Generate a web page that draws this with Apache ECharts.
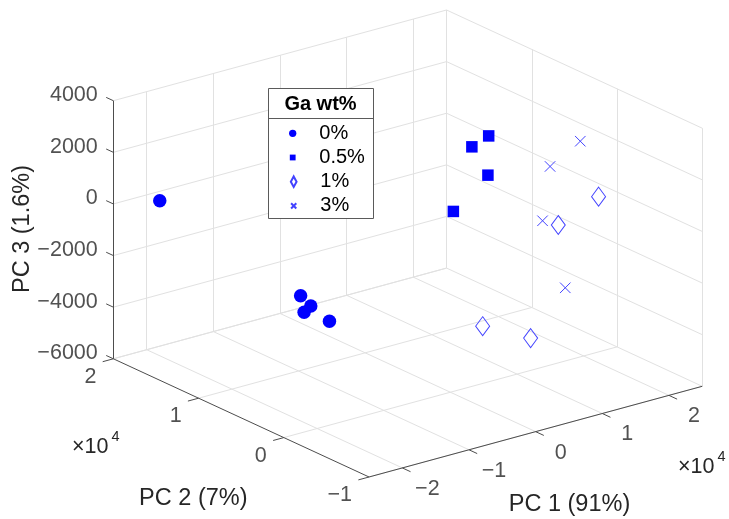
<!DOCTYPE html>
<html><head><meta charset="utf-8">
<script src="https://cdn.jsdelivr.net/npm/echarts@6/dist/echarts.min.js"></script>
<style>html,body{margin:0;padding:0;background:#fff}#c{width:729px;height:519px}</style>
</head><body><div id="c"></div>
<script>
// ---------------- data (PC scores) ----------------
const groupNames = ['0%', '0.5%', '1%', '3%'];
const pc1_g0 = [-22000, -23500, -23000, -24000, -22500];
const pc2_g0 = [16900, -800, -1600, -1600, -3400];
const pc3_g0 = [390, -490, -800, -970, -1150];
const pc1_g05 = [6000, 4500, 5500, 3000];
const pc2_g05 = [200, 1000, -100, 2000];
const pc3_g05 = [3480, 3040, 2040, 490];
const pc1_g1 = [23000, 19000, 12000, 16000];
const pc2_g1 = [600, 2200, 5600, 3100];
const pc3_g1 = [-130, -1190, -5140, -5500];
const pc1_g3 = [20000, 17000, 16000, 18000];
const pc2_g3 = [400, 1600, 1700, 600];
const pc3_g3 = [2260, 1310, -740, -3310];

const pc1Range = [-25000, 25000];
const pc2Range = [-10000, 20000];
const pc3Range = [-6000, 4000];
const pc1Ticks = [-20000, -10000, 0, 10000, 20000];
const pc2Ticks = [-10000, 0, 10000, 20000];
const pc3Ticks = [-6000, -4000, -2000, 0, 2000, 4000];
const pc1TickLabels = ['\u22122', '\u22121', '0', '1', '2'];
const pc2TickLabels = ['\u22121', '0', '1', '2'];
const pc3TickLabels = ['\u22126000', '\u22124000', '\u22122000', '0', '2000', '4000'];
const axisTitles = ['PC 1 (91%)', 'PC 2 (7%)', 'PC 3 (1.6%)'];
const legendTitle = 'Ga wt%';

// ---------------- view (MATLAB default 3-D view) ----------------
const AZ = -37.5 * Math.PI / 180, EL = 30 * Math.PI / 180;
const W = 729, H = 519, CX = 407.8, CY = 243.5, KX = 420, KY = 298;
function norm(v, r) { return (v - r[0]) / (r[1] - r[0]) - 0.5; }
function proj(a, b, c) {
  const x = norm(a, pc1Range), y = norm(b, pc2Range), z = norm(c, pc3Range);
  const X = Math.cos(AZ) * x + Math.sin(AZ) * y;
  const Y = -Math.sin(EL) * Math.sin(AZ) * x + Math.sin(EL) * Math.cos(AZ) * y + Math.cos(EL) * z;
  return [X, Y];
}
const FONT = "'Liberation Sans', Arial, Helvetica, sans-serif";
const TXT = '#262626';

// grid lines on the three back planes
const gridSegs = [];
const [x0, x1] = pc1Range, [y0, y1] = pc2Range, [z0, z1] = pc3Range;
pc1Ticks.forEach(t => { gridSegs.push([proj(t, y0, z0), proj(t, y1, z0)]); gridSegs.push([proj(t, y1, z0), proj(t, y1, z1)]); });
pc2Ticks.forEach(t => { gridSegs.push([proj(x0, t, z0), proj(x1, t, z0)]); gridSegs.push([proj(x1, t, z0), proj(x1, t, z1)]); });
pc3Ticks.forEach(t => { gridSegs.push([proj(x0, y1, t), proj(x1, y1, t)]); gridSegs.push([proj(x1, y0, t), proj(x1, y1, t)]); });

// axis lines and ticks
const axisSegs = [
  [proj(x0, y0, z0), proj(x1, y0, z0)],
  [proj(x0, y0, z0), proj(x0, y1, z0)],
  [proj(x0, y1, z0), proj(x0, y1, z1)]
];
const TL = 0.032;
pc1Ticks.forEach(t => axisSegs.push([proj(t, y0, z0), proj(t, y0 - TL * (y1 - y0), z0)]));
pc2Ticks.forEach(t => axisSegs.push([proj(x0, t, z0), proj(x0 - TL * (x1 - x0), t, z0)]));
pc3Ticks.forEach(t => axisSegs.push([proj(x0, y1, t), proj(x0, y1 + 0.028 * (y1 - y0), t)]));

function labelSeries(points, texts, pos, align) {
  return {
    type: 'scatter', symbolSize: 0, silent: true, z: 5, data: points,
    itemStyle: { color: 'transparent' },
    label: { show: true, position: pos, align: align, verticalAlign: 'middle',
      formatter: p => texts[p.dataIndex], color: TXT, fontSize: 21.5, fontFamily: FONT }
  };
}

const markerStroke = '#4343ff';
const dataSeries = [
  { name: groupNames[0], type: 'scatter', z: 3, symbol: 'circle', symbolSize: 13.5,
    itemStyle: { color: '#0000ff', opacity: 1 },
    data: pc1_g0.map((v, i) => proj(v, pc2_g0[i], pc3_g0[i])) },
  { name: groupNames[1], type: 'scatter', z: 3, symbol: 'path://M0,0L10,0L10,10L0,10Z', symbolSize: 11.5,
    itemStyle: { color: '#0000ff', opacity: 1 },
    data: pc1_g05.map((v, i) => proj(v, pc2_g05[i], pc3_g05[i])) },
  { name: groupNames[2], type: 'scatter', z: 3, symbol: 'diamond', symbolSize: [14, 19],
    itemStyle: { color: 'rgba(0,0,0,0)', borderColor: markerStroke, borderWidth: 1, opacity: 1 },
    data: pc1_g1.map((v, i) => proj(v, pc2_g1[i], pc3_g1[i])) },
  { name: groupNames[3], type: 'scatter', z: 3, symbol: 'path://M0,0L10,10M10,0L0,10', symbolSize: 10.5,
    itemStyle: { color: 'rgba(0,0,0,0)', borderColor: markerStroke, borderWidth: 1, opacity: 1 },
    data: pc1_g3.map((v, i) => proj(v, pc2_g3[i], pc3_g3[i])) }
];

const legendIcons = [null, null, 'path://M3,0L6,5.5L3,11L0,5.5Z', null];
const legendIconH = [7.3, 5.8, 10.5, 5.2];
const legendIconW = [7.3, 5.8, 5.73, 5.2];
const LEG_ROW0 = 133.3, LEG_DY = 24.2, LEG_ICON_X = 292.7, LEG_ITEM_W = 43.2;
const legends = groupNames.map((n, i) => ({
  data: [legendIcons[i] ? { name: n, icon: legendIcons[i] } : { name: n }],
  left: LEG_ICON_X - legendIconW[i] / 2, top: LEG_ROW0 + i * LEG_DY - 12,
  orient: 'vertical', padding: 0, itemGap: 0,
  itemWidth: LEG_ITEM_W, itemHeight: legendIconH[i], symbolKeepAspect: true,
  selectedMode: false, z: 10,
  textStyle: { fontSize: 20, lineHeight: 24, color: '#000', fontFamily: FONT }
}));

const option = {
  animation: false,
  backgroundColor: '#fff',
  grid: { left: 0, right: 0, top: 0, bottom: 0, containLabel: false },
  xAxis: { type: 'value', show: false, min: -CX / KX, max: (W - CX) / KX },
  yAxis: { type: 'value', show: false, min: -(H - CY) / KY, max: CY / KY },
  legend: legends,
  graphic: { elements: [
    { type: 'rect', z: 8, shape: { x: 268.5, y: 88.5, width: 105, height: 130 },
      style: { fill: '#fff', stroke: '#5a5a5a', lineWidth: 1, opacity: 1 } },
    { type: 'line', z: 9, shape: { x1: 268.5, y1: 118.5, x2: 373.5, y2: 118.5 },
      style: { stroke: '#5a5a5a', lineWidth: 1 } },
    { type: 'text', z: 9, x: 320.5, y: 104.5,
      style: { text: legendTitle, fontSize: 20, fontWeight: 'bold', fill: '#000', fontFamily: FONT, align: 'center', verticalAlign: 'middle' } },
    { type: 'text', z: 9, x: 569.5, y: 505,
      style: { text: axisTitles[0], fontSize: 23.5, fill: TXT, fontFamily: FONT, align: 'center', verticalAlign: 'middle' } },
    { type: 'text', z: 9, x: 193.3, y: 498.3,
      style: { text: axisTitles[1], fontSize: 23.5, fill: TXT, fontFamily: FONT, align: 'center', verticalAlign: 'middle' } },
    { type: 'text', z: 9, x: 22.7, y: 229, rotation: Math.PI / 2,
      style: { text: axisTitles[2], fontSize: 23.5, fill: TXT, fontFamily: FONT, align: 'center', verticalAlign: 'middle' } },
    { type: 'text', z: 9, x: 72, y: 446.7,
      style: { text: '\u00d710', fontSize: 21.5, fill: TXT, fontFamily: FONT, align: 'left', verticalAlign: 'middle' } },
    { type: 'text', z: 9, x: 111.5, y: 437,
      style: { text: '4', fontSize: 14.5, fill: TXT, fontFamily: FONT, align: 'left', verticalAlign: 'middle' } },
    { type: 'text', z: 9, x: 678, y: 466.7,
      style: { text: '\u00d710', fontSize: 21.5, fill: TXT, fontFamily: FONT, align: 'left', verticalAlign: 'middle' } },
    { type: 'text', z: 9, x: 717.5, y: 457,
      style: { text: '4', fontSize: 14.5, fill: TXT, fontFamily: FONT, align: 'left', verticalAlign: 'middle' } }
  ] },
  series: [
    { type: 'lines', coordinateSystem: 'cartesian2d', silent: true, z: 1, polyline: false,
      lineStyle: { color: '#e1e1e1', width: 1, opacity: 1 },
      data: gridSegs.map(s => ({ coords: s })) },
    { type: 'lines', coordinateSystem: 'cartesian2d', silent: true, z: 2, polyline: false,
      lineStyle: { color: '#4d4d4d', width: 1, opacity: 1 },
      data: axisSegs.map(s => ({ coords: s })) },
    ...dataSeries,
    labelSeries(pc1Ticks.map(t => proj(t, y0, z0)), pc1TickLabels, [25, 21], 'center'),
    labelSeries(pc2Ticks.map(t => proj(x0, t, z0)), pc2TickLabels, [-17, 18], 'right'),
    labelSeries(pc3Ticks.map(t => proj(x0, y1, t)), pc3TickLabels, [-15.6, -5.5], 'right')
  ]
};
const chart = echarts.init(document.getElementById('c'), null, { renderer: 'canvas' });
chart.setOption(option);
</script></body></html>
